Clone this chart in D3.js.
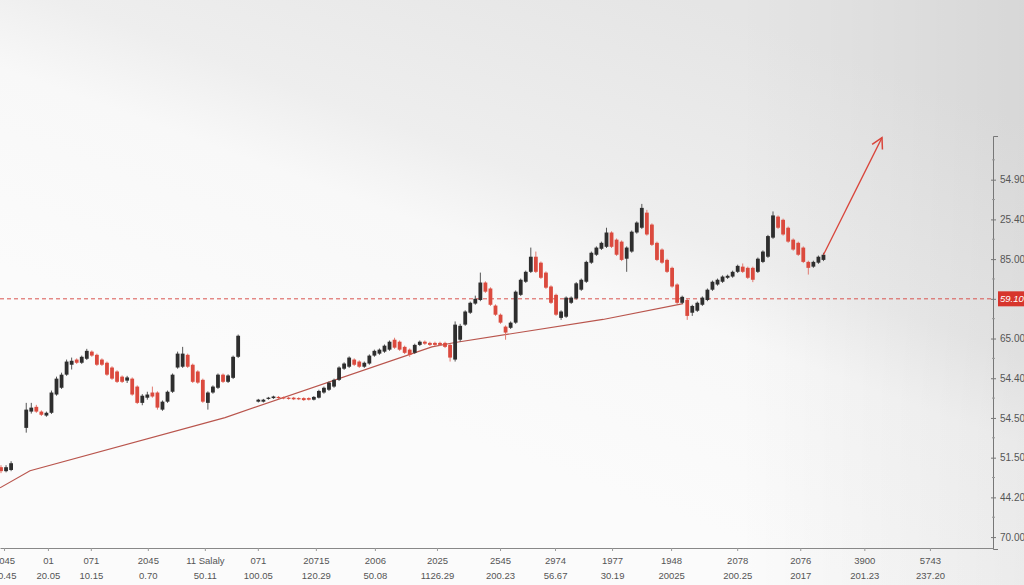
<!DOCTYPE html>
<html><head><meta charset="utf-8">
<script src="https://cdn.jsdelivr.net/npm/d3@7"></script>
<style>html,body{margin:0;padding:0;background:#f4f4f4;overflow:hidden}svg{display:block}</style>
</head><body><svg id="c" width="1024" height="585"></svg>
<script>
// ---------- DATA ----------
const opens = [17.6,16.6,16.9,null,null,
27.5,31.6,32.8,31.6,30.6,31.3,35.9,37.6,40.9,43.4,
44.7,43.9,44.9,46.7,45.9,44.7,43.9,42.7,41.7,40.4,
39.4,39.9,37.9,33.8,35.1,36.4,36.4,32.1,34.1,36.6,
42.7,42.9,45.9,43.4,41.7,39.6,33.8,36.4,37.6,40.9,
39.1,40.1,45.4,
null,null,null,
34.1,34.1,34.8,35.0,35.3,35.2,35.1,35.1,35.0,
35.0,35.0,34.6,35.1,36.4,37.1,37.9,39.6,42.4,42.9,
44.7,44.2,42.9,43.7,45.7,46.2,46.7,47.2,49.7,49.2,
47.9,47.2,46.4,48.4,49.2,48.9,48.9,48.9,48.9,48.4,
44.7,49.7,53.5,56.5,58.8,59.7,64.1,62.6,58.3,56.0,
53.0,52.7,54.0,61.0,64.3,66.8,70.6,69.1,66.6,63.1,
61.0,55.2,55.5,59.0,60.1,62.3,64.3,69.1,71.1,72.6,
73.1,76.7,74.9,74.4,70.1,71.9,76.7,77.9,81.7,78.7,
74.1,72.4,69.8,67.8,63.6,59.0,59.7,56.5,57.0,58.5,
59.7,62.3,63.6,64.3,65.3,65.6,66.8,68.1,67.8,67.8,
66.8,69.3,70.6,75.4,80.7,79.9,77.9,74.9,74.1,72.9,
69.3,68.1,69.1,69.8];
const highs = [18.1,18.1,19.1,null,null,
33.8,33.8,33.3,31.9,31.6,36.9,40.4,41.4,44.7,45.2,
45.0,45.7,47.4,47.0,46.2,45.0,44.2,43.0,42.0,40.7,
40.6,40.2,38.2,36.0,36.6,37.9,36.7,34.4,36.9,41.2,
46.7,47.9,46.2,43.7,42.0,39.9,36.7,38.2,41.2,41.2,
41.0,45.7,51.0,
null,null,null,
34.8,34.8,35.3,35.6,35.5,35.4,35.3,35.3,35.2,
35.2,35.2,35.5,37.1,37.9,39.2,39.9,43.0,44.0,45.5,
45.0,44.5,44.2,46.0,47.2,47.5,48.5,49.5,50.2,49.5,
48.2,47.5,48.7,49.5,49.5,49.2,49.2,49.2,49.2,48.7,
54.3,53.7,57.1,59.3,60.8,66.6,64.4,62.9,58.6,56.3,
53.3,54.3,62.1,65.1,67.1,72.9,71.9,69.4,66.9,63.4,
61.3,57.1,60.6,60.6,64.2,65.1,69.6,71.9,73.2,74.4,
77.9,77.0,75.2,74.7,73.2,77.2,79.5,83.9,82.4,79.0,
74.4,72.7,70.1,68.1,63.9,60.8,60.0,58.5,59.3,60.6,
62.6,64.6,65.1,65.9,66.1,67.1,68.6,68.9,68.1,68.1,
70.4,72.2,76.1,82.0,81.0,80.2,78.2,75.2,74.4,73.2,
69.6,69.6,70.9,71.6];
const lows = [16.1,16.3,16.6,null,null,
26.3,31.1,31.3,30.5,30.3,31.0,35.6,37.3,40.6,42.2,
43.6,43.6,44.6,45.4,43.1,43.1,40.6,39.6,38.8,38.8,
38.8,35.6,33.5,33.2,34.6,35.1,32.1,31.8,33.8,36.3,
42.4,42.6,42.6,38.8,38.6,33.8,32.1,36.1,37.3,38.8,
38.8,39.8,45.1,
null,null,null,
33.9,33.9,34.6,34.8,34.8,34.7,34.6,34.5,34.5,
34.3,34.4,34.4,34.9,36.1,36.8,37.6,39.3,42.1,42.6,
43.1,42.6,42.6,43.4,45.4,45.9,46.4,46.9,47.4,46.9,
46.1,45.4,46.1,48.1,48.4,48.1,48.1,48.1,47.6,44.2,
44.2,49.2,53.2,56.2,58.5,59.4,61.5,58.2,55.7,53.7,
49.7,52.4,53.7,60.7,64.0,66.5,66.5,65.0,62.5,58.7,
55.7,54.7,55.2,58.7,59.8,62.0,64.0,68.8,70.8,72.3,
72.8,72.8,70.8,69.5,66.8,71.6,76.4,77.6,75.9,73.3,
69.5,68.8,66.5,62.8,58.7,58.7,54.7,55.7,56.7,58.2,
59.4,62.0,63.3,64.0,65.0,65.3,66.5,66.5,65.0,64.2,
66.5,69.0,70.3,75.1,77.6,75.9,74.1,72.1,70.8,69.0,
66.1,67.8,68.8,69.5];
const closes = [16.6,17.6,18.6,null,null,
32.1,32.6,31.6,30.8,31.3,36.4,39.9,40.9,44.2,44.4,
43.9,45.4,46.9,45.7,43.4,43.4,40.9,39.9,39.1,39.1,
40.2,35.9,33.8,35.6,35.9,35.4,32.6,34.1,36.6,40.9,
46.2,46.2,42.9,39.1,38.9,34.1,36.4,37.9,40.9,39.1,
40.7,45.4,50.7,
null,null,null,
34.6,34.6,35.1,35.4,35.0,34.9,34.8,34.7,34.7,
34.5,34.6,35.3,36.8,37.6,38.9,39.6,42.7,43.7,45.2,
43.4,42.9,43.9,45.7,46.9,47.2,48.2,49.2,47.7,47.2,
46.4,45.9,48.4,49.2,48.7,48.4,48.4,48.4,47.9,45.2,
53.5,53.2,56.8,59.0,60.0,64.1,61.8,58.5,56.0,54.0,
51.5,54.0,61.8,64.8,66.8,70.6,66.8,65.3,62.8,59.0,
56.0,56.8,60.3,60.3,63.9,64.8,69.3,71.6,72.9,74.1,
76.7,73.1,71.1,69.8,72.9,76.9,79.2,82.9,76.2,73.6,
69.8,69.1,66.8,63.1,59.0,60.5,55.7,58.2,59.0,60.3,
62.3,64.3,64.8,65.6,65.8,66.8,68.3,66.8,65.3,64.8,
70.1,71.9,75.8,81.0,77.9,76.2,74.4,72.4,71.1,69.3,
67.8,69.3,70.6,71.1];

// trend line (index, value)
const trendIdx = [-0.2, 5.75, 44.4, 85.4, 90.0, 119.3, 135.2];
const trendVal = [12.4, 16.7, 30.1, 47.9, 49.0, 54.8, 58.8];
// projection arrow
const arrowIdx = [163, 174.6];
const arrowVal = [71.1, 100.6];
// reference level
const refLevel = 60;
const refLabel = "59.10";

// right axis
const yTickVals = [0,10,20,30,40,50,60,70,80,90];
const yTickLabels = ["70.00","44.20","51.50","54.50","54.40","65.00","","85.00","25.40","54.90"];
// bottom axis
const xTickIdx = [0.6, 9.3, 17.8, 29.1, 40.4, 50.9, 62.4, 74.1, 86.4, 98.9, 109.8, 121.1, 132.8, 145.9, 158.4, 171.1, 184.1];
const xLabels1 = ["2045","01","071","2045","11 Salaly","071","20715","2006","2025","2545","2974","1977","1948","2078","2076","3900","5743"];
const xLabels2 = ["20.45","20.05","10.15","0.70","50.11","100.05","120.29","50.08","1126.29","200.23","56.67","30.19","20025","200.25","2017","201.23","237.20"];

// ---------- DRAW ----------
const W = 1024, H = 585;
const svg = d3.select("#c");
const defs = svg.append("defs");
const g1 = defs.append("linearGradient").attr("id","bg").attr("gradientUnits","userSpaceOnUse")
  .attr("x1",640).attr("y1",-20).attr("x2",470).attr("y2",440);
g1.append("stop").attr("offset",0).attr("stop-color","#e5e5e5");
g1.append("stop").attr("offset",0.45).attr("stop-color","#eeeeee");
g1.append("stop").attr("offset",0.62).attr("stop-color","#f8f8f8");
g1.append("stop").attr("offset",1).attr("stop-color","#fbfbfb");
const g2 = defs.append("linearGradient").attr("id","bg2").attr("x1",0).attr("y1",0).attr("x2",1).attr("y2",0);
g2.append("stop").attr("offset",0.72).attr("stop-color","#000").attr("stop-opacity",0);
g2.append("stop").attr("offset",1).attr("stop-color","#000").attr("stop-opacity",0.06);
svg.append("rect").attr("width",W).attr("height",H).attr("fill","url(#bg)");
svg.append("rect").attr("width",W).attr("height",H).attr("fill","url(#bg2)");

const x = d3.scaleLinear().domain([-0.2, 196.6]).range([0, 993]);
const y = d3.scaleLinear().domain([-3, 101]).range([549, 136]);

const n = opens.length;
if ([highs.length, lows.length, closes.length].some(l => l !== n)) {
  svg.append("text").attr("x",20).attr("y",40).text("LENGTH MISMATCH " + [n,highs.length,lows.length,closes.length].join(","));
}
const candles = d3.range(n).filter(i => opens[i] != null).map(i => ({i, o:opens[i], h:highs[i], l:lows[i], c:closes[i]}));

const upCol = "#2e2e2e", downCol = "#db4a3e";
// reference dashed line
svg.append("line").attr("x1",0).attr("x2",993).attr("y1",y(refLevel)).attr("y2",y(refLevel))
  .attr("stroke","#d9534f").attr("stroke-width",1).attr("stroke-dasharray","4,3");

// trend line
const line = d3.line().x(d => x(d[0])).y(d => y(d[1]));
svg.append("path").attr("d", line(trendIdx.map((v,k)=>[v,trendVal[k]])))
  .attr("fill","none").attr("stroke","#b9554d").attr("stroke-width",1.2);

// candles
const cg = svg.append("g");
cg.selectAll("line.w").data(candles).join("line")
  .attr("x1",d=>x(d.i)).attr("x2",d=>x(d.i)).attr("y1",d=>y(d.h)).attr("y2",d=>y(d.l))
  .attr("stroke",d=>d.c>=d.o?"#555":"#e07a70").attr("stroke-width",1);
const bw = 3.8;
cg.selectAll("rect").data(candles).join("rect")
  .attr("x",d=>x(d.i)-bw/2).attr("width",bw)
  .attr("y",d=>y(Math.max(d.o,d.c)))
  .attr("height",d=>Math.max(1.2, Math.abs(y(d.o)-y(d.c))))
  .attr("fill",d=>d.c>=d.o?upCol:downCol);

// arrow
const ax0 = x(arrowIdx[0]), ay0 = y(arrowVal[0]), ax1 = x(arrowIdx[1]), ay1 = y(arrowVal[1]);
svg.append("line").attr("x1",ax0).attr("y1",ay0).attr("x2",ax1).attr("y2",ay1)
  .attr("stroke","#d9453b").attr("stroke-width",1.3);
const ang = Math.atan2(ay0-ay1, ax0-ax1), hl = 12, spread = 0.5;
svg.append("path")
  .attr("d",`M${ax1+hl*Math.cos(ang+spread)},${ay1+hl*Math.sin(ang+spread)}L${ax1},${ay1}L${ax1+hl*Math.cos(ang-spread)},${ay1+hl*Math.sin(ang-spread)}`)
  .attr("fill","none").attr("stroke","#d9453b").attr("stroke-width",1.5);

// right axis
const yAxis = d3.axisRight(y).tickValues(yTickVals).tickFormat((d,k)=>yTickLabels[k]).tickSize(3).tickSizeOuter(5).tickPadding(4);
const ya = svg.append("g").attr("transform","translate(993,0)").call(yAxis);
ya.select(".domain").attr("stroke","#777");
ya.selectAll(".tick line").attr("stroke","#777").attr("x1",-2);
ya.selectAll("text").attr("fill","#555").attr("font-size","10px").attr("font-family","'Liberation Sans', Arial, sans-serif");
// minor ticks
ya.selectAll("line.minor").data(yTickVals.map(v=>v+5)).join("line").attr("class","minor")
  .attr("x1",-1).attr("x2",2).attr("y1",d=>y(d)).attr("y2",d=>y(d)).attr("stroke","#999");
// reference label
ya.append("rect").attr("x",5).attr("y",y(refLevel)-7.5).attr("width",31).attr("height",15).attr("fill","#d7352c");
ya.append("text").attr("x",7).attr("y",y(refLevel)+3.5).attr("fill","#fff").attr("font-size","9.5px")
  .attr("font-style","italic").attr("font-family","'Liberation Sans', Arial, sans-serif").text(refLabel);

// bottom axis
const xAxis = d3.axisBottom(x).tickValues(xTickIdx).tickFormat("").tickSize(3).tickSizeOuter(0);
const xa = svg.append("g").attr("transform","translate(0,548)").call(xAxis);
xa.select(".domain").attr("stroke","#888");
xa.selectAll(".tick line").attr("stroke","#999");
xa.selectAll(".tick").each(function(d,k){
  const t = d3.select(this);
  t.append("text").attr("y",15.5).attr("text-anchor","middle").attr("fill","#555")
    .attr("font-size","9.5px").attr("font-family","'Liberation Sans', Arial, sans-serif").text(xLabels1[k]);
  t.append("text").attr("y",30.5).attr("text-anchor","middle").attr("fill","#555")
    .attr("font-size","9.5px").attr("font-family","'Liberation Sans', Arial, sans-serif").text(xLabels2[k]);
});
</script></body></html>
